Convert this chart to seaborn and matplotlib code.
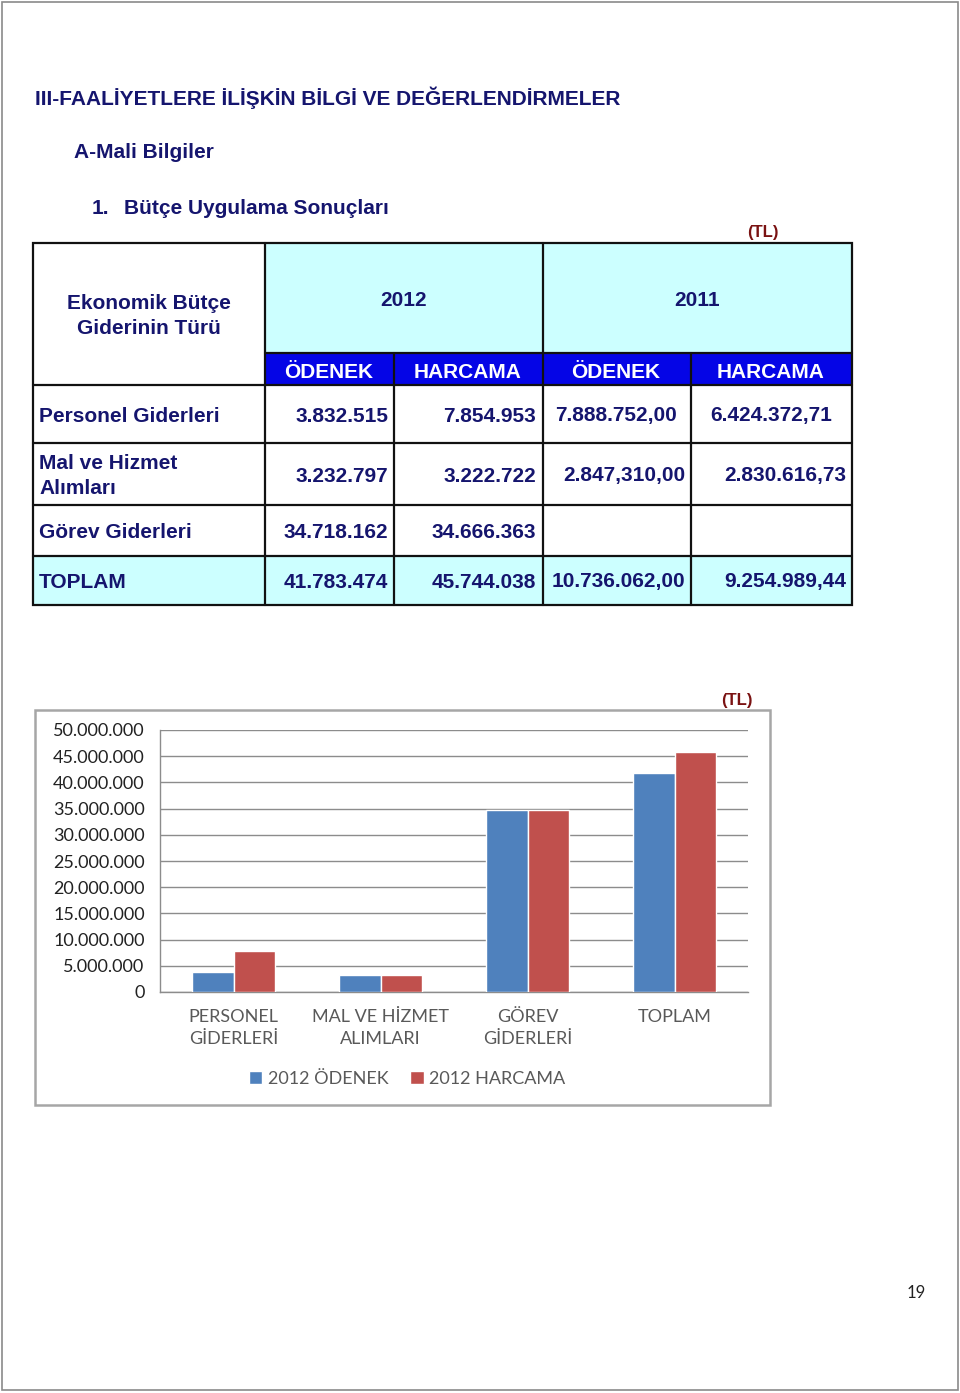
import matplotlib
matplotlib.use("Agg")
import matplotlib.pyplot as plt
import matplotlib.patches as mpatches
from matplotlib.ticker import FuncFormatter, FixedLocator
import seaborn as sns
import pandas as pd

# ---------------- data ----------------
categories = ["PERSONEL\nGİDERLERİ", "MAL VE HİZMET\nALIMLARI", "GÖREV\nGİDERLERİ", "TOPLAM"]
row_labels = ["Personel Giderleri", "Mal ve Hizmet\nAlımları", "Görev Giderleri", "TOPLAM"]
series_names = ["2012 ÖDENEK", "2012 HARCAMA"]
odenek_2012 = [3832515, 3232797, 34718162, 41783474]
harcama_2012 = [7854953, 3222722, 34666363, 45744038]
odenek_2011 = ["7.888.752,00", "2.847,310,00", "", "10.736.062,00"]
harcama_2011 = ["6.424.372,71", "2.830.616,73", "", "9.254.989,44"]
year_labels = ["2012", "2011"]
sub_headers = ["ÖDENEK", "HARCAMA", "ÖDENEK", "HARCAMA"]
y_ticks = [0, 5000000, 10000000, 15000000, 20000000, 25000000,
           30000000, 35000000, 40000000, 45000000, 50000000]

title_main = "III-FAALİYETLERE İLİŞKİN BİLGİ VE DEĞERLENDİRMELER"
title_sub = "A-Mali Bilgiler"
title_num = "1."
title_sec = "Bütçe Uygulama Sonuçları"
unit_label = "(TL)"
page_no = "19"

# ---------------- style ----------------
sns.set_style("white")
plt.rcParams["font.family"] = ["Liberation Sans", "DejaVu Sans"]

NAVY = "#15156e"
BLUE_BAND = "#0505e6"
CYAN = "#ccffff"
DARKRED = "#7a1212"
BAR_BLUE = "#4f81bd"
BAR_RED = "#c0504d"
CHART_FONT = ["Lato", "DejaVu Sans"]

W, H = 960, 1393
fig = plt.figure(figsize=(W / 100, H / 100), dpi=100)
fig.patch.set_facecolor("white")

bg = fig.add_axes([0, 0, 1, 1])
bg.set_xlim(0, W)
bg.set_ylim(H, 0)
bg.axis("off")

# page border
bg.add_patch(mpatches.Rectangle((1.5, 1.5), 956.5, 1388, fill=False, ec="#8a8a8a", lw=1.2))

def fmt_dot(v):
    return f"{v:,.0f}".replace(",", ".")

DY = 2  # small vertical nudge for centred text

# header text
bg.text(35, 96 + DY, title_main, fontsize=15, fontweight="bold", color=NAVY, va="center", ha="left")
bg.text(74, 151 + DY, title_sub, fontsize=15, fontweight="bold", color=NAVY, va="center", ha="left")
bg.text(92, 207 + DY, title_num, fontsize=15, fontweight="bold", color=NAVY, va="center", ha="left")
bg.text(124, 207 + DY, title_sec, fontsize=15, fontweight="bold", color=NAVY, va="center", ha="left")
bg.text(763, 231 + DY, unit_label, fontsize=12, fontweight="bold", color=DARKRED, va="center", ha="center")

# ---------------- table ----------------
X0, X1, X2, X3, X4, X5 = 33, 265, 394, 543, 691, 852
Y0, Y1, Y2 = 243, 353, 385
row_edges = [385, 443, 505, 556, 605]

bg.add_patch(mpatches.Rectangle((X1, Y0), X5 - X1, Y1 - Y0, fc=CYAN, ec="none"))
bg.add_patch(mpatches.Rectangle((X0, row_edges[3]), X5 - X0, row_edges[4] - row_edges[3], fc=CYAN, ec="none"))
bg.add_patch(mpatches.Rectangle((X1, Y1), X5 - X1, Y2 - Y1, fc=BLUE_BAND, ec="none"))

lw = 1.6
lc = "#111111"
bg.add_patch(mpatches.Rectangle((X0, Y0), X5 - X0, row_edges[4] - Y0, fill=False, ec=lc, lw=lw))
for x in (X1, X3):
    bg.plot([x, x], [Y0, row_edges[4]], color=lc, lw=lw)
for x in (X2, X4):
    bg.plot([x, x], [Y1, row_edges[4]], color=lc, lw=lw)
bg.plot([X1, X5], [Y1, Y1], color=lc, lw=lw)
for y in row_edges[:-1]:
    bg.plot([X0, X5], [y, y], color=lc, lw=lw)

TF = 15
LS = 1.38
bg.text(149, 314 + DY, "Ekonomik Bütçe\nGiderinin Türü", fontsize=TF, fontweight="bold", color=NAVY,
        ha="center", va="center", linespacing=LS, multialignment="center")
bg.text(404, 299 + DY, year_labels[0], fontsize=TF, fontweight="bold", color=NAVY, ha="center", va="center")
bg.text(697, 299 + DY, year_labels[1], fontsize=TF, fontweight="bold", color=NAVY, ha="center", va="center")
for cx, lab in zip([329, 468, 616, 771], sub_headers):
    bg.text(cx, 370 + DY, lab, fontsize=TF, fontweight="bold", color="white", ha="center", va="center")

row_y = [414, 474, 530, 580]
# (x, ha) placement for the 2011 cells per row
o11_pos = [(555, "left"), (685, "right"), (617, "center"), (685, "right")]
h11_pos = [(710, "left"), (846, "right"), (771, "center"), (846, "right")]
for i, y in enumerate(row_y):
    yy = y + DY
    bg.text(39, yy, row_labels[i], fontsize=TF, fontweight="bold", color=NAVY, ha="left", va="center",
            linespacing=LS)
    bg.text(388, yy, fmt_dot(odenek_2012[i]), fontsize=TF, fontweight="bold", color=NAVY, ha="right", va="center")
    bg.text(536, yy, fmt_dot(harcama_2012[i]), fontsize=TF, fontweight="bold", color=NAVY, ha="right", va="center")
    if odenek_2011[i]:
        bg.text(o11_pos[i][0], yy, odenek_2011[i], fontsize=TF, fontweight="bold", color=NAVY,
                ha=o11_pos[i][1], va="center")
    if harcama_2011[i]:
        bg.text(h11_pos[i][0], yy, harcama_2011[i], fontsize=TF, fontweight="bold", color=NAVY,
                ha=h11_pos[i][1], va="center")

# ---------------- chart ----------------
bg.add_patch(mpatches.Rectangle((35, 710), 735, 395, fill=False, ec="#a6a6a6", lw=1.8))
bg.text(737, 698 + DY, unit_label, fontsize=12, fontweight="bold", color=DARKRED, va="center", ha="center")
bg.text(916, 1293, page_no, fontsize=12, color="#222222", va="center", ha="center", family=CHART_FONT)

df = pd.DataFrame({
    "category": categories * 2,
    "series": [series_names[0]] * len(categories) + [series_names[1]] * len(categories),
    "value": odenek_2012 + harcama_2012,
})

ax = fig.add_axes([160 / W, (H - 992) / H, 588 / W, 262 / H])
ax.set_facecolor("none")
sns.barplot(data=df, x="category", y="value", hue="series", order=categories, hue_order=series_names,
            palette=[BAR_BLUE, BAR_RED], width=0.57, saturation=1, ax=ax, zorder=3, errorbar=None)

ax.set_xlim(-0.5, len(categories) - 0.5)
ax.set_ylim(0, y_ticks[-1])
ax.yaxis.set_major_locator(FixedLocator(y_ticks))
ax.yaxis.set_major_formatter(FuncFormatter(lambda v, p: fmt_dot(v)))
ax.grid(axis="y", color="#8c8c8c", lw=1.0, zorder=0)
ax.set_axisbelow(True)
for s in ("top", "right"):
    ax.spines[s].set_visible(False)
for s in ("left", "bottom"):
    ax.spines[s].set_color("#8c8c8c")
    ax.spines[s].set_linewidth(1.0)
ax.set_xlabel("")
ax.set_ylabel("")

ax.tick_params(axis="y", length=5, width=1, color="#8c8c8c", pad=6, labelsize=13, labelcolor="#222222")
ax.tick_params(axis="x", which="major", length=0, pad=12, labelsize=13, labelcolor="#595959")
ax.set_xticks(range(len(categories)))
ax.set_xticklabels(categories, linespacing=1.45)
ax.set_xticks([i - 0.5 for i in range(len(categories) + 1)], minor=True)
ax.tick_params(axis="x", which="minor", length=6, width=1, color="#8c8c8c")
for lab in ax.get_xticklabels() + ax.get_yticklabels():
    lab.set_family(CHART_FONT)

handles, labels = ax.get_legend_handles_labels()
if ax.get_legend() is not None:
    ax.get_legend().remove()
ax.legend(handles, labels, loc="center", bbox_to_anchor=(407 / W, 1 - 1079 / H),
          bbox_transform=fig.transFigure, ncol=2, frameon=False, handlelength=0.75, handleheight=0.75,
          handletextpad=0.3, columnspacing=1.2, prop={"family": CHART_FONT, "size": 13},
          labelcolor="#595959")

fig.savefig("out.png", dpi=100, facecolor="white")
